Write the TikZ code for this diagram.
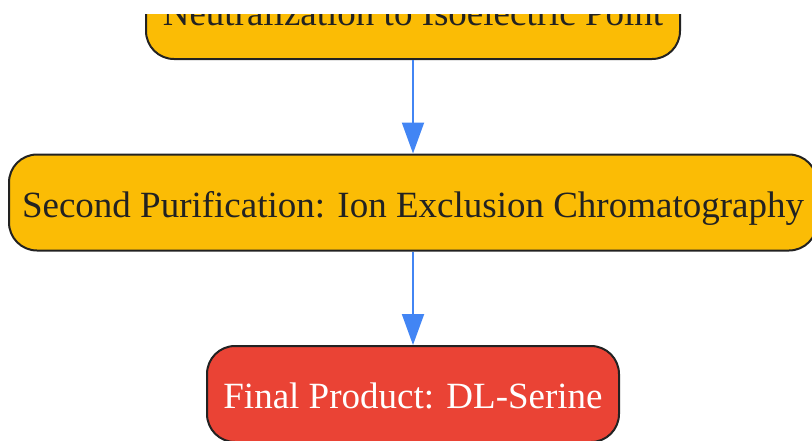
\documentclass[tikz,border=0pt]{standalone}
\usepackage{fontspec}
\setmainfont{Liberation Serif}
\usetikzlibrary{arrows.meta}
\definecolor{gyellow}{HTML}{FBBC05}
\definecolor{gred}{HTML}{EA4335}
\definecolor{gblue}{HTML}{4285F4}
\definecolor{stroke}{HTML}{222222}
\tikzset{
  stepbox/.style={draw=stroke, line width=2pt, rounded corners=28pt, minimum height=96pt, inner sep=0pt, text height=35pt, text depth=6pt, font=\fontsize{37}{42}\selectfont, text=stroke},
  procbox/.style={stepbox, fill=gyellow},
  finalbox/.style={stepbox, fill=gred, text=white},
  flow/.style={draw=gblue, line width=2pt, -{Triangle[width=22pt,length=31pt]}}
}
\begin{document}
\begin{tikzpicture}[x=1pt,y=-1pt]
\useasboundingbox (0,0) rectangle (812,440);
\begin{scope}
\clip (0,14) rectangle (812,440);
\node[procbox, minimum width=534pt] (neut) at (413,11) {Neutralization to Isoelectric Point};
\node[procbox, minimum width=808pt] (second) at (413,202.5) {Second Purification: Ion Exclusion Chromatography};
\node[finalbox, minimum width=412pt] (final) at (413,394) {Final Product: DL-Serine};
\draw[flow] (neut) -- (second);
\draw[flow] (second) -- (final);
\end{scope}
\end{tikzpicture}
\end{document}
